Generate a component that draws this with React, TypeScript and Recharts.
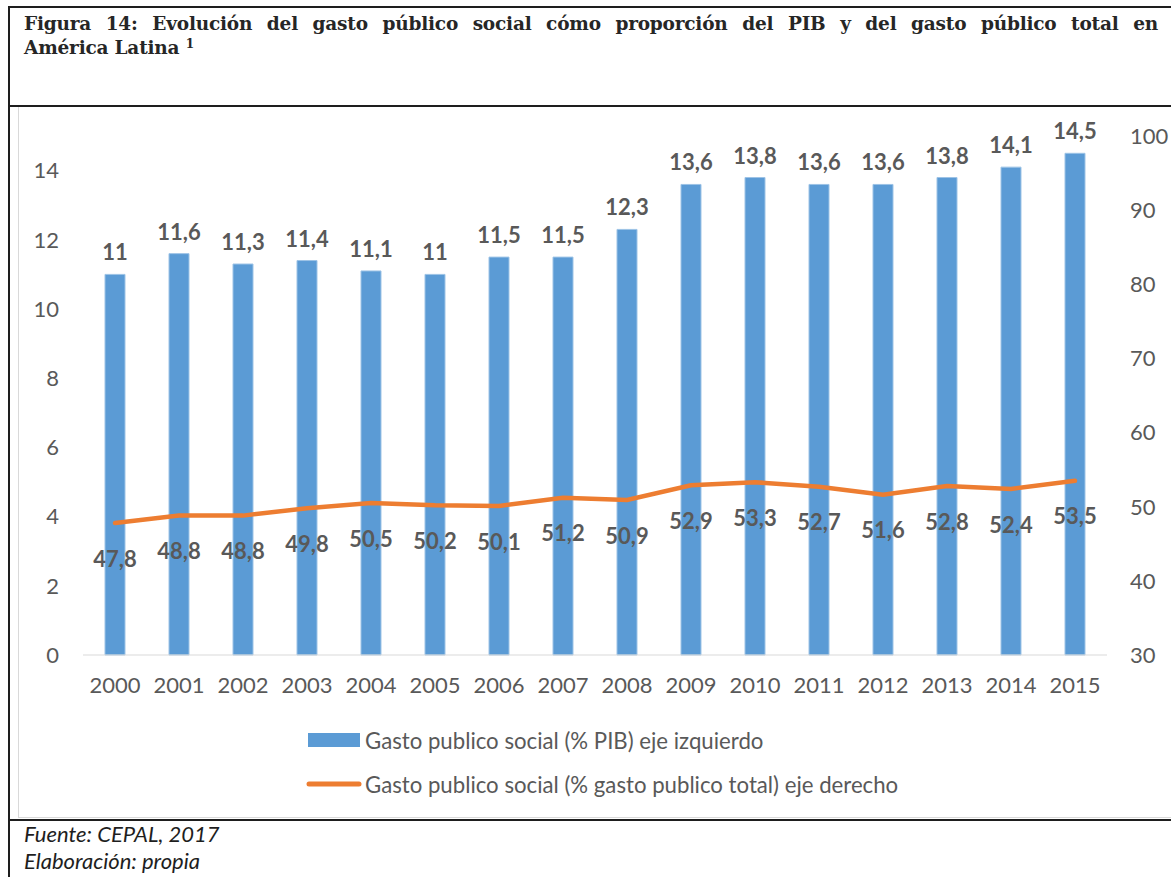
import { ComposedChart, Bar, Line, XAxis, YAxis, LabelList, Legend } from "recharts"

const years = ['2000', '2001', '2002', '2003', '2004', '2005', '2006', '2007', '2008', '2009', '2010', '2011', '2012', '2013', '2014', '2015'];
const gastoPib = [11, 11.6, 11.3, 11.4, 11.1, 11, 11.5, 11.5, 12.3, 13.6, 13.8, 13.6, 13.6, 13.8, 14.1, 14.5];
const gastoTotal = [47.8, 48.8, 48.8, 49.8, 50.5, 50.2, 50.1, 51.2, 50.9, 52.9, 53.3, 52.7, 51.6, 52.8, 52.4, 53.5];
const leftTicks = [0, 2, 4, 6, 8, 10, 12, 14];
const rightTicks = [30, 40, 50, 60, 70, 80, 90, 100];

const BLUE = '#5B9BD5';
const ORANGE = '#ED7D31';
const GRAY = '#595959';
const FONT = 'Lato, "Noto Sans", sans-serif';

const data = years.map((y, i) => ({ year: y, pib: gastoPib[i], total: gastoTotal[i] }));

const fmt = (v: any) => String(v).replace('.', ',');

function LegendBox() {
  return (
    <div style={{ fontFamily: FONT, fontSize: 22.2, color: GRAY }}>
      <div style={{ display: 'flex', alignItems: 'center', height: 44 }}>
        <svg width={59} height={14}><rect x={2} y={0} width={52} height={14} fill={BLUE} /></svg>
        <span>Gasto publico social (% PIB) eje izquierdo</span>
      </div>
      <div style={{ display: 'flex', alignItems: 'center', height: 44 }}>
        <svg width={59} height={6}><line x1={3} y1={3} x2={53} y2={3} stroke={ORANGE} strokeWidth={5} strokeLinecap="round" /></svg>
        <span>Gasto publico social (% gasto publico total) eje derecho</span>
      </div>
    </div>
  )
}

export default function App() {
  const tick = { fill: GRAY, fontSize: 22, fontFamily: FONT };
  return (
    <div style={{ position: 'absolute', left: 0, top: 0, width: 1171, height: 877, background: '#fff', overflow: 'hidden' }}>
      {/* frame lines */}
      <div style={{ position: 'absolute', left: 8, top: 6, width: 1163, height: 2, background: '#1e1e1e' }} />
      <div style={{ position: 'absolute', left: 8, top: 6, width: 2, height: 871, background: '#1e1e1e' }} />
      <div style={{ position: 'absolute', left: 8, top: 105, width: 1163, height: 2, background: '#1e1e1e' }} />
      <div style={{ position: 'absolute', left: 8, top: 819, width: 1163, height: 2, background: '#1e1e1e' }} />

      {/* title */}
      <div style={{ position: 'absolute', left: 24, top: 13, width: 1134, fontFamily: '"DejaVu Serif", serif', fontWeight: 'bold', fontSize: 18.5, color: '#262626', lineHeight: '21px', letterSpacing: -0.2 }}>
        <div style={{ textAlign: 'justify', textAlignLast: 'justify', whiteSpace: 'normal' }}>
          Figura 14: Evolución del gasto público social cómo proporción del PIB y del gasto público total en
        </div>
        <div>América Latina <sup style={{ fontSize: 12, verticalAlign: 6 }}>1</sup></div>
      </div>

      {/* chart */}
      <div style={{ position: 'absolute', left: 18, top: 107, width: 1153, height: 711, borderLeft: '1px solid #d9d9d9', borderBottom: '1px solid #d9d9d9', boxSizing: 'border-box' }}>
        <ComposedChart width={1152} height={710} data={data} margin={{ top: 29, right: 0, bottom: 122, left: 0 }}>
          <XAxis dataKey="year" tick={tick} axisLine={{ stroke: '#d9d9d9' }} tickLine={false} tickSize={0} tickMargin={22} height={40} />
          <YAxis yAxisId="left" domain={[0, 15]} ticks={leftTicks} tick={tick} axisLine={false} tickLine={false} tickSize={0} tickMargin={24} width={64} />
          <YAxis yAxisId="right" orientation="right" domain={[30, 100]} ticks={rightTicks} tick={tick} axisLine={false} tickLine={false} tickSize={0} tickMargin={23} width={64} />
          <Bar yAxisId="left" dataKey="pib" fill={BLUE} stroke="#9DC3E6" strokeWidth={1} barSize={20} isAnimationActive={false}>
            <LabelList dataKey="pib" position="top" offset={14} formatter={fmt} fill={GRAY} fontWeight="bold" fontSize={22} fontFamily={FONT} />
          </Bar>
          <Line yAxisId="right" dataKey="total" type="linear" stroke={ORANGE} strokeWidth={4.5} strokeLinecap="round" dot={false} activeDot={false} isAnimationActive={false}>
            <LabelList dataKey="total" position="bottom" offset={28} formatter={fmt} fill={GRAY} fontWeight="bold" fontSize={22} fontFamily={FONT} />
          </Line>
          <Legend layout="vertical" align="center" verticalAlign="middle" wrapperStyle={{ left: 287, top: 611, width: 700 }} content={() => <LegendBox />} />
        </ComposedChart>
      </div>

      {/* footer */}
      <div style={{ position: 'absolute', left: 24, top: 820, fontFamily: FONT, fontStyle: 'italic', fontSize: 22, color: '#1e1e1e', lineHeight: '27px' }}>
        <div>Fuente: CEPAL, 2017</div>
        <div>Elaboración: propia</div>
      </div>
    </div>
  )
}
